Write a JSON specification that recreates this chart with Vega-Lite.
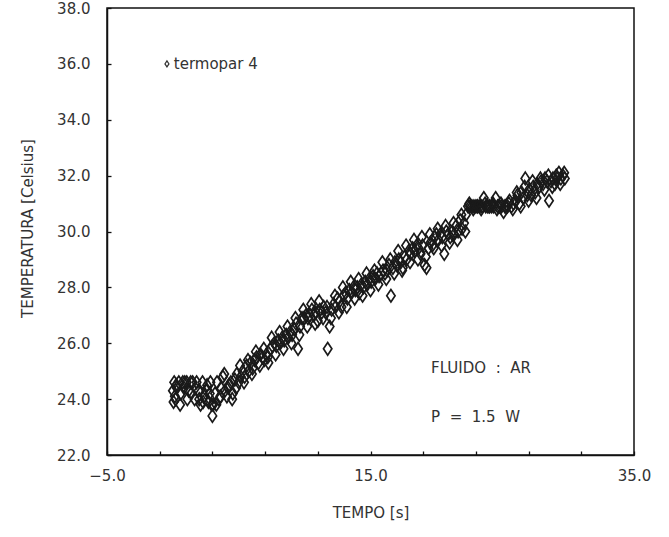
{
"$schema": "https://vega.github.io/schema/vega-lite/v6.json",
"width": 527, "height": 447,
"autosize": "none",
"padding": {"left": 107, "top": 8, "right": 35, "bottom": 82},
"background": "white",
"config": {"view": {"stroke": "#111", "strokeWidth": 1.5}, "font": "DejaVu Sans"},
"datasets": {
"pts": [
{"t":0.0,"temp":24.3},{"t":0.05,"temp":23.9},{"t":0.1,"temp":24.6},{"t":0.15,"temp":24.1},{"t":0.2,"temp":24.0},{"t":0.3,"temp":24.4},{"t":0.45,"temp":24.6},{"t":0.6,"temp":24.2},{"t":0.75,"temp":24.6},{"t":0.9,"temp":24.6},{"t":1.05,"temp":24.6},{"t":1.2,"temp":24.3},{"t":1.35,"temp":24.6},{"t":1.5,"temp":24.6},{"t":1.65,"temp":24.0},{"t":1.8,"temp":24.6},{"t":1.95,"temp":24.3},{"t":2.1,"temp":23.8},{"t":2.25,"temp":24.6},{"t":2.4,"temp":24.1},{"t":2.55,"temp":24.3},{"t":2.7,"temp":23.9},{"t":2.85,"temp":24.6},{"t":2.95,"temp":23.8},{"t":3.0,"temp":23.4},{"t":3.05,"temp":23.8},
{"t":3.2,"temp":24.2},{"t":3.35,"temp":24.6},{"t":3.5,"temp":24.0},{"t":3.65,"temp":24.4},{"t":3.8,"temp":24.8},{"t":3.95,"temp":24.3},{"t":4.1,"temp":24.1},{"t":4.25,"temp":24.5},{"t":4.4,"temp":24.6},{"t":4.55,"temp":24.2},{"t":4.7,"temp":24.7},{"t":4.85,"temp":24.9},{"t":5.0,"temp":24.6},{"t":5.15,"temp":24.8},{"t":5.3,"temp":25.0},{"t":5.45,"temp":24.8},{"t":5.6,"temp":25.2},{"t":5.75,"temp":25.0},{"t":5.9,"temp":25.3},{"t":6.05,"temp":25.1},{"t":6.2,"temp":25.4},{"t":6.35,"temp":25.5},{"t":6.5,"temp":25.3},{"t":6.65,"temp":25.6},{"t":6.8,"temp":25.5},{"t":6.95,"temp":25.4},{"t":7.1,"temp":25.6},{"t":7.25,"temp":25.3},{"t":7.4,"temp":25.8},{"t":7.55,"temp":25.9},{"t":7.7,"temp":26.0},{"t":7.85,"temp":25.9},{"t":8.0,"temp":26.1},{"t":8.15,"temp":26.0},{"t":8.3,"temp":26.2},{"t":8.45,"temp":26.1},{"t":8.6,"temp":26.3},{"t":8.75,"temp":26.2},{"t":8.9,"temp":26.4},{"t":9.05,"temp":26.3},{"t":9.2,"temp":26.5},{"t":9.35,"temp":26.7},{"t":9.5,"temp":25.8},{"t":9.65,"temp":26.6},{"t":9.8,"temp":26.9},{"t":9.95,"temp":26.9},{"t":10.1,"temp":27.0},{"t":10.25,"temp":26.9},{"t":10.4,"temp":27.0},{"t":10.55,"temp":27.2},{"t":10.7,"temp":27.0},{"t":10.85,"temp":27.1},{"t":11.0,"temp":26.8},{"t":11.15,"temp":27.2},{"t":11.3,"temp":27.1},{"t":11.45,"temp":27.3},{"t":11.6,"temp":27.1},{"t":11.75,"temp":25.8},{"t":11.9,"temp":26.6},{"t":12.05,"temp":27.2},{"t":12.2,"temp":27.4},{"t":12.35,"temp":27.3},{"t":12.5,"temp":27.6},{"t":12.65,"temp":27.5},{"t":12.8,"temp":27.3},{"t":12.95,"temp":27.7},{"t":13.1,"temp":27.8},{"t":13.25,"temp":27.6},{"t":13.4,"temp":27.9},{"t":13.55,"temp":27.8},{"t":13.7,"temp":28.0},{"t":13.85,"temp":27.9},{"t":14.0,"temp":28.0},{"t":14.15,"temp":27.8},{"t":14.3,"temp":28.1},{"t":14.45,"temp":28.0},{"t":14.6,"temp":28.2},{"t":14.75,"temp":28.1},{"t":14.9,"temp":28.3},{"t":15.05,"temp":28.2},{"t":15.2,"temp":28.4},{"t":15.35,"temp":28.3},{"t":15.5,"temp":28.5},{"t":15.65,"temp":28.4},{"t":15.8,"temp":28.5},{"t":15.95,"temp":28.6},{"t":16.1,"temp":28.5},{"t":16.25,"temp":28.6},{"t":16.4,"temp":28.8},{"t":16.55,"temp":27.7},{"t":16.7,"temp":28.7},{"t":16.85,"temp":28.9},{"t":17.0,"temp":28.8},{"t":17.15,"temp":29.0},{"t":17.3,"temp":28.9},{"t":17.45,"temp":28.7},{"t":17.6,"temp":29.1},{"t":17.75,"temp":29.0},{"t":17.9,"temp":29.3},{"t":18.05,"temp":29.2},{"t":18.2,"temp":29.4},{"t":18.35,"temp":29.3},{"t":18.5,"temp":29.5},{"t":18.65,"temp":29.4},{"t":18.8,"temp":29.2},{"t":18.95,"temp":29.5},{"t":19.1,"temp":28.8},{"t":19.25,"temp":28.7},{"t":19.4,"temp":29.4},{"t":19.55,"temp":29.6},{"t":19.7,"temp":29.5},{"t":19.85,"temp":29.8},{"t":20.0,"temp":29.9},{"t":20.15,"temp":29.7},{"t":20.3,"temp":29.9},{"t":20.45,"temp":29.8},{"t":20.6,"temp":29.2},{"t":20.75,"temp":30.0},{"t":20.9,"temp":29.9},{"t":21.05,"temp":29.8},{"t":21.2,"temp":30.0},{"t":21.35,"temp":29.9},{"t":21.5,"temp":30.2},{"t":21.65,"temp":30.0},{"t":21.8,"temp":30.4},{"t":21.95,"temp":30.1},{"t":22.1,"temp":30.3},{"t":22.25,"temp":30.6},
{"t":22.4,"temp":30.9},{"t":22.55,"temp":30.9},{"t":22.7,"temp":30.9},{"t":22.85,"temp":30.9},{"t":23.0,"temp":30.9},{"t":23.15,"temp":30.9},{"t":23.3,"temp":30.9},{"t":23.45,"temp":30.9},{"t":23.6,"temp":31.2},{"t":23.75,"temp":30.9},{"t":23.9,"temp":30.9},{"t":24.05,"temp":30.9},{"t":24.2,"temp":30.9},{"t":24.35,"temp":30.9},{"t":24.5,"temp":31.2},{"t":24.65,"temp":30.9},{"t":24.8,"temp":30.9},{"t":24.95,"temp":30.9},{"t":25.1,"temp":30.7},{"t":25.25,"temp":30.9},{"t":25.4,"temp":30.9},{"t":25.55,"temp":31.1},{"t":25.7,"temp":30.9},
{"t":25.85,"temp":31.0},{"t":26.0,"temp":31.1},{"t":26.15,"temp":31.3},{"t":26.3,"temp":31.0},{"t":26.45,"temp":31.4},{"t":26.6,"temp":31.2},{"t":26.75,"temp":31.9},{"t":26.9,"temp":31.3},{"t":27.05,"temp":31.5},{"t":27.2,"temp":31.3},{"t":27.35,"temp":31.6},{"t":27.5,"temp":31.4},{"t":27.65,"temp":31.7},{"t":27.8,"temp":31.6},{"t":27.95,"temp":31.8},{"t":28.1,"temp":31.7},{"t":28.25,"temp":31.9},{"t":28.4,"temp":31.8},{"t":28.55,"temp":31.1},{"t":28.7,"temp":31.8},{"t":28.85,"temp":31.9},{"t":29.0,"temp":31.7},{"t":29.15,"temp":31.9},{"t":29.3,"temp":32.1},{"t":29.45,"temp":31.9},{"t":29.6,"temp":32.0},{"t":29.75,"temp":31.9},
{"t":0.25,"temp":24.5},{"t":0.55,"temp":23.8},{"t":0.85,"temp":24.4},{"t":1.1,"temp":24.0},{"t":1.4,"temp":24.2},{"t":1.7,"temp":24.4},{"t":2.0,"temp":24.0},{"t":2.3,"temp":23.9},{"t":2.6,"temp":24.5},{"t":2.8,"temp":24.2},
{"t":3.3,"temp":23.8},{"t":3.6,"temp":24.1},{"t":3.9,"temp":24.9},{"t":4.2,"temp":24.4},{"t":4.5,"temp":24.0},{"t":4.8,"temp":24.4},{"t":5.1,"temp":25.2},{"t":5.4,"temp":24.6},{"t":5.7,"temp":25.4},{"t":6.0,"temp":24.9},{"t":6.3,"temp":25.7},{"t":6.6,"temp":25.2},{"t":6.9,"temp":25.8},{"t":7.2,"temp":25.5},{"t":7.5,"temp":26.2},{"t":7.8,"temp":25.6},{"t":8.1,"temp":26.4},{"t":8.4,"temp":25.8},{"t":8.7,"temp":26.6},{"t":9.0,"temp":26.0},{"t":9.3,"temp":26.9},{"t":9.6,"temp":26.3},{"t":9.9,"temp":27.2},{"t":10.2,"temp":26.6},{"t":10.5,"temp":27.4},{"t":10.8,"temp":26.7},{"t":11.1,"temp":27.5},{"t":11.4,"temp":26.9},{"t":11.7,"temp":27.3},{"t":12.0,"temp":26.9},{"t":12.3,"temp":27.7},{"t":12.6,"temp":27.1},{"t":12.9,"temp":28.0},{"t":13.2,"temp":27.3},{"t":13.5,"temp":28.2},{"t":13.8,"temp":27.6},{"t":14.1,"temp":28.3},{"t":14.4,"temp":27.7},{"t":14.7,"temp":28.5},{"t":15.0,"temp":27.9},{"t":15.3,"temp":28.6},{"t":15.6,"temp":28.1},{"t":15.9,"temp":28.9},{"t":16.2,"temp":28.3},{"t":16.5,"temp":29.0},{"t":16.8,"temp":28.5},{"t":17.1,"temp":29.3},{"t":17.4,"temp":28.6},{"t":17.7,"temp":29.5},{"t":18.0,"temp":28.9},{"t":18.3,"temp":29.7},{"t":18.6,"temp":29.0},{"t":18.9,"temp":29.8},{"t":19.2,"temp":29.1},{"t":19.5,"temp":29.9},{"t":19.8,"temp":29.4},{"t":20.1,"temp":30.1},{"t":20.4,"temp":29.5},{"t":20.7,"temp":30.2},{"t":21.0,"temp":29.6},{"t":21.3,"temp":30.3},{"t":21.6,"temp":29.7},{"t":21.9,"temp":30.6},{"t":22.2,"temp":30.0},{"t":22.5,"temp":31.0},{"t":22.8,"temp":30.8},{"t":23.1,"temp":30.9},{"t":23.4,"temp":30.8},{"t":23.7,"temp":31.0},{"t":24.0,"temp":30.9},{"t":24.3,"temp":31.0},{"t":24.6,"temp":30.8},{"t":24.9,"temp":31.0},{"t":25.2,"temp":30.9},{"t":25.5,"temp":31.0},{"t":25.8,"temp":30.8},{"t":26.1,"temp":31.4},{"t":26.4,"temp":30.9},{"t":26.7,"temp":31.6},{"t":27.0,"temp":31.1},{"t":27.3,"temp":31.8},{"t":27.6,"temp":31.2},{"t":27.9,"temp":31.9},{"t":28.2,"temp":31.5},{"t":28.5,"temp":32.0},{"t":28.8,"temp":31.6},{"t":29.1,"temp":32.0},{"t":29.4,"temp":31.7},{"t":29.7,"temp":32.1}
],
"notes": [
{"t":0.07,"temp":36.0,"label":"termopar 4"},
{"t":19.6,"temp":25.1,"label":"FLUIDO\u00a0\u00a0:\u00a0\u00a0AR"},
{"t":19.6,"temp":23.35,"label":"P\u00a0\u00a0=\u00a0\u00a01.5\u00a0\u00a0W"}
],
"key": [{"t":-0.45,"temp":36.0}]
},
"layer": [
{
"data": {"name": "pts"},
"mark": {"type": "point", "shape": "M0,-1.2L0.8,0L0,1.2L-0.8,0Z", "filled": false, "stroke": "#1a1a1a", "strokeWidth": 1.7, "opacity": 1, "size": 110},
"encoding": {
"x": {"field": "t", "type": "quantitative", "scale": {"domain": [-5, 35], "nice": false, "zero": false},
"axis": {"values": [-5,-4,-3,-2,-1,0,1,2,3,4,5,6,7,8,9,10,11,12,13,14,15,16,17,18,19,20,21,22,23,24,25,26,27,28,29,30,31,32,33,34,35], "labelExpr": "datum.value % 5 === 0 ? format(datum.value, '.1f') : ''", "grid": false, "ticks": true, "tickSize": -4, "tickColor": "#111", "tickWidth": 1.3, "domain": true, "domainColor": "#111", "domainWidth": 1.5, "labelFontSize": 15, "labelColor": "#333", "labelPadding": 17, "labelOverlap": false, "labelFlush": false, "labelBound": false, "title": "TEMPO [s]", "titleFontSize": 15, "titleFontWeight": "normal", "titleColor": "#333", "titleY": 57, "titleBaseline": "middle", "orient": "bottom"}},
"y": {"field": "temp", "type": "quantitative", "scale": {"domain": [22, 38], "nice": false, "zero": false},
"axis": {"values": [22,22.5,23,23.5,24,24.5,25,25.5,26,26.5,27,27.5,28,28.5,29,29.5,30,30.5,31,31.5,32,32.5,33,33.5,34,34.5,35,35.5,36,36.5,37,37.5,38], "labelExpr": "datum.value % 2 === 0 ? format(datum.value, '.1f') : ''", "grid": false, "ticks": true, "tickSize": -4, "tickColor": "#111", "tickWidth": 1.3, "domain": true, "domainColor": "#111", "domainWidth": 1.5, "labelFontSize": 15, "labelColor": "#333", "labelPadding": 21, "labelOverlap": false, "labelFlush": false, "labelBound": false, "title": "TEMPERATURA [Celsius]", "titleFontSize": 15, "titleFontWeight": "normal", "titleColor": "#333", "titleX": -80, "titleY": 220, "titleAlign": "center", "titleBaseline": "middle", "orient": "left"}}
}
},
{
"data": {"name": "notes"},
"mark": {"type": "text", "align": "left", "baseline": "middle", "fontSize": 15, "color": "#333"},
"encoding": {
"x": {"field": "t", "type": "quantitative"},
"y": {"field": "temp", "type": "quantitative"},
"text": {"field": "label"}
}
},
{
"data": {"name": "key"},
"mark": {"type": "point", "shape": "M0,-1.2L0.8,0L0,1.2L-0.8,0Z", "filled": false, "stroke": "#333", "strokeWidth": 1.2, "opacity": 1, "size": 25},
"encoding": {
"x": {"field": "t", "type": "quantitative"},
"y": {"field": "temp", "type": "quantitative"}
}
}
]
}
